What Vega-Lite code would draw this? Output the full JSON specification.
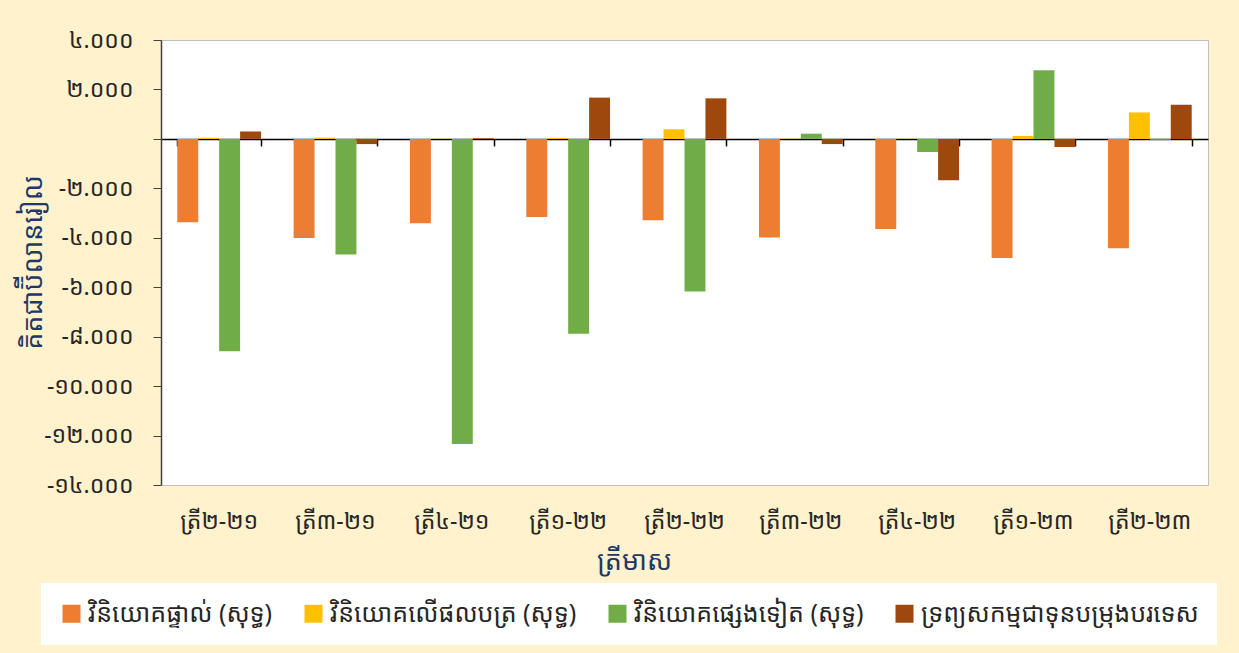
{
  "$schema": "https://vega.github.io/schema/vega-lite/v6.json",
  "width": 1047,
  "height": 445,
  "autosize": {"type": "none"},
  "padding": {"left": 161, "top": 40, "right": 31, "bottom": 168},
  "background": "#FFF2CC",
  "config": {
    "font": "Noto Sans Khmer, Khmer OS, Noto Sans, DejaVu Sans, sans-serif",
    "view": {"fill": "white", "stroke": "#BFBFBF"}
  },
  "data": {
    "values": [
      {"quarter": "ត្រី២-២១", "series": "វិនិយោគផ្ទាល់ (សុទ្ធ)", "value": -3370},
      {"quarter": "ត្រី២-២១", "series": "វិនិយោគលើផលបត្រ (សុទ្ធ)", "value": 50},
      {"quarter": "ត្រី២-២១", "series": "វិនិយោគផ្សេងទៀត (សុទ្ធ)", "value": -8590},
      {"quarter": "ត្រី២-២១", "series": "ទ្រព្យសកម្មជាទុនបម្រុងបរទេស", "value": 300},
      {"quarter": "ត្រី៣-២១", "series": "វិនិយោគផ្ទាល់ (សុទ្ធ)", "value": -4010},
      {"quarter": "ត្រី៣-២១", "series": "វិនិយោគលើផលបត្រ (សុទ្ធ)", "value": 50},
      {"quarter": "ត្រី៣-២១", "series": "វិនិយោគផ្សេងទៀត (សុទ្ធ)", "value": -4680},
      {"quarter": "ត្រី៣-២១", "series": "ទ្រព្យសកម្មជាទុនបម្រុងបរទេស", "value": -210},
      {"quarter": "ត្រី៤-២១", "series": "វិនិយោគផ្ទាល់ (សុទ្ធ)", "value": -3410},
      {"quarter": "ត្រី៤-២១", "series": "វិនិយោគលើផលបត្រ (សុទ្ធ)", "value": 10},
      {"quarter": "ត្រី៤-២១", "series": "វិនិយោគផ្សេងទៀត (សុទ្ធ)", "value": -12340},
      {"quarter": "ត្រី៤-២១", "series": "ទ្រព្យសកម្មជាទុនបម្រុងបរទេស", "value": 30},
      {"quarter": "ត្រី១-២២", "series": "វិនិយោគផ្ទាល់ (សុទ្ធ)", "value": -3160},
      {"quarter": "ត្រី១-២២", "series": "វិនិយោគលើផលបត្រ (សុទ្ធ)", "value": 40},
      {"quarter": "ត្រី១-២២", "series": "វិនិយោគផ្សេងទៀត (សុទ្ធ)", "value": -7880},
      {"quarter": "ត្រី១-២២", "series": "ទ្រព្យសកម្មជាទុនបម្រុងបរទេស", "value": 1670},
      {"quarter": "ត្រី២-២២", "series": "វិនិយោគផ្ទាល់ (សុទ្ធ)", "value": -3290},
      {"quarter": "ត្រី២-២២", "series": "វិនិយោគលើផលបត្រ (សុទ្ធ)", "value": 390},
      {"quarter": "ត្រី២-២២", "series": "វិនិយោគផ្សេងទៀត (សុទ្ធ)", "value": -6170},
      {"quarter": "ត្រី២-២២", "series": "ទ្រព្យសកម្មជាទុនបម្រុងបរទេស", "value": 1640},
      {"quarter": "ត្រី៣-២២", "series": "វិនិយោគផ្ទាល់ (សុទ្ធ)", "value": -3990},
      {"quarter": "ត្រី៣-២២", "series": "វិនិយោគលើផលបត្រ (សុទ្ធ)", "value": 15},
      {"quarter": "ត្រី៣-២២", "series": "វិនិយោគផ្សេងទៀត (សុទ្ធ)", "value": 210},
      {"quarter": "ត្រី៣-២២", "series": "ទ្រព្យសកម្មជាទុនបម្រុងបរទេស", "value": -210},
      {"quarter": "ត្រី៤-២២", "series": "វិនិយោគផ្ទាល់ (សុទ្ធ)", "value": -3640},
      {"quarter": "ត្រី៤-២២", "series": "វិនិយោគលើផលបត្រ (សុទ្ធ)", "value": 10},
      {"quarter": "ត្រី៤-២២", "series": "វិនិយោគផ្សេងទៀត (សុទ្ធ)", "value": -530},
      {"quarter": "ត្រី៤-២២", "series": "ទ្រព្យសកម្មជាទុនបម្រុងបរទេស", "value": -1670},
      {"quarter": "ត្រី១-២៣", "series": "វិនិយោគផ្ទាល់ (សុទ្ធ)", "value": -4820},
      {"quarter": "ត្រី១-២៣", "series": "វិនិយោគលើផលបត្រ (សុទ្ធ)", "value": 120},
      {"quarter": "ត្រី១-២៣", "series": "វិនិយោគផ្សេងទៀត (សុទ្ធ)", "value": 2780},
      {"quarter": "ត្រី១-២៣", "series": "ទ្រព្យសកម្មជាទុនបម្រុងបរទេស", "value": -330},
      {"quarter": "ត្រី២-២៣", "series": "វិនិយោគផ្ទាល់ (សុទ្ធ)", "value": -4420},
      {"quarter": "ត្រី២-២៣", "series": "វិនិយោគលើផលបត្រ (សុទ្ធ)", "value": 1070},
      {"quarter": "ត្រី២-២៣", "series": "វិនិយោគផ្សេងទៀត (សុទ្ធ)", "value": -40},
      {"quarter": "ត្រី២-២៣", "series": "ទ្រព្យសកម្មជាទុនបម្រុងបរទេស", "value": 1380}
    ]
  },
  "resolve": {"axis": {"x": "independent"}},
  "layer": [
    {
      "mark": {"type": "bar"},
      "encoding": {
        "x": {
          "field": "quarter",
          "type": "nominal",
          "sort": null,
          "scale": {"paddingInner": 0.28, "paddingOuter": 0.14},
          "axis": {
            "orient": "bottom",
            "domain": false,
            "ticks": false,
            "labelAngle": 0,
            "labelFontSize": 23,
            "labelColor": "#262626",
            "labelBaseline": "middle",
            "labelPadding": 36,
            "title": "ត្រីមាស",
            "titleFontSize": 27,
            "titleFontWeight": "normal",
            "titleColor": "#1F3864",
            "titleX": 473,
            "titleY": 76,
            "titleBaseline": "middle"
          }
        },
        "xOffset": {
          "field": "series",
          "type": "nominal",
          "sort": null,
          "scale": {"paddingInner": 0, "paddingOuter": 0}
        },
        "y": {
          "field": "value",
          "type": "quantitative",
          "scale": {"domain": [-14000, 4000], "nice": false},
          "axis": {
            "values": [-14000, -12000, -10000, -8000, -6000, -4000, -2000, 0, 2000, 4000],
            "grid": false,
            "domainColor": "#404040",
            "domainWidth": 1.5,
            "tickColor": "#404040",
            "tickSize": 8,
            "labelFontSize": 23,
            "labelColor": "#262626",
            "labelPadding": 20,
            "labelExpr": "datum.value == 4000 ? '៤.០០០' : datum.value == 2000 ? '២.០០០' : datum.value == 0 ? '' : datum.value == -2000 ? '-២.០០០' : datum.value == -4000 ? '-៤.០០០' : datum.value == -6000 ? '-៦.០០០' : datum.value == -8000 ? '-៨.០០០' : datum.value == -10000 ? '-១០.០០០' : datum.value == -12000 ? '-១២.០០០' : '-១៤.០០០'",
            "title": "គិតជាប៊ីលានរៀល",
            "titleFontSize": 27,
            "titleFontWeight": "normal",
            "titleColor": "#1F3864",
            "titleAngle": 270,
            "titleAlign": "center",
            "titleBaseline": "middle",
            "titleX": -128,
            "titleY": 222
          }
        },
        "color": {
          "field": "series",
          "type": "nominal",
          "sort": null,
          "scale": {
            "domain": ["វិនិយោគផ្ទាល់ (សុទ្ធ)", "វិនិយោគលើផលបត្រ (សុទ្ធ)", "វិនិយោគផ្សេងទៀត (សុទ្ធ)", "ទ្រព្យសកម្មជាទុនបម្រុងបរទេស"],
            "range": ["#ED7D31", "#FFC000", "#70AD47", "#9E480E"]
          },
          "legend": {
            "title": null,
            "orient": "none",
            "direction": "horizontal",
            "legendX": -120,
            "legendY": 543,
            "fillColor": "white",
            "padding": 18,
            "symbolType": "square",
            "symbolSize": 324,
            "symbolStrokeWidth": 0,
            "symbolOpacity": 1,
            "labelFontSize": 25,
            "labelColor": "#262626",
            "labelLimit": 500,
            "columnPadding": 28
          }
        }
      }
    },
    {
      "mark": {"type": "bar", "opacity": 0},
      "encoding": {
        "x": {
          "field": "quarter",
          "type": "nominal",
          "sort": null,
          "axis": {
            "orient": "bottom",
            "offset": -346.1,
            "labels": false,
            "title": null,
            "domainColor": "black",
            "domainWidth": 1.5,
            "tickColor": "black",
            "tickWidth": 1.5,
            "tickSize": 7,
            "tickBand": "extent"
          }
        },
        "y": {"field": "value", "type": "quantitative"}
      }
    }
  ]
}
